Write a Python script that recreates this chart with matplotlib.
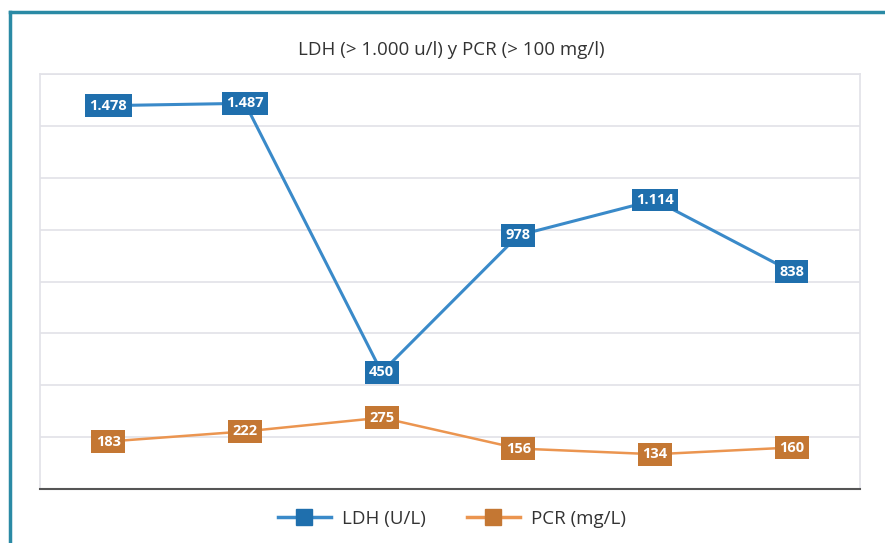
import matplotlib
matplotlib.use("Agg")
import matplotlib.pyplot as plt
from matplotlib.lines import Line2D

plt.rcParams['font.family'] = ['Open Sans', 'DejaVu Sans']

categories = ["1", "2", "3", "4", "5", "6"]
ldh = [1478, 1487, 450, 978, 1114, 838]
pcr = [183, 222, 275, 156, 134, 160]
ldh_labels = ["1.478", "1.487", "450", "978", "1.114", "838"]
pcr_labels = ["183", "222", "275", "156", "134", "160"]
title = "LDH (> 1.000 u/l) y PCR (> 100 mg/l)"
series_names = ["LDH (U/L)", "PCR (mg/L)"]

ldh_line, ldh_box = "#3a8ac9", "#1f6fad"
pcr_line, pcr_box = "#eb9550", "#c47733"

fig = plt.figure(figsize=(8.85, 5.43), dpi=100)
ax = fig.add_axes([40/885, 54/543, 820/885, 415/543])

x = list(range(len(categories)))
ax.plot(x, ldh, color=ldh_line, lw=2.2, zorder=3)
ax.plot(x, pcr, color=pcr_line, lw=1.8, zorder=3)

for xi, v, lab in zip(x, ldh, ldh_labels):
    ax.text(xi, v, lab, ha='center', va='center', color='white', fontsize=10.5,
            fontweight='bold', zorder=5,
            bbox=dict(boxstyle='square,pad=0.3', fc=ldh_box, ec='none'))
for xi, v, lab in zip(x, pcr, pcr_labels):
    ax.text(xi, v, lab, ha='center', va='center', color='white', fontsize=10.5,
            fontweight='bold', zorder=5,
            bbox=dict(boxstyle='square,pad=0.3', fc=pcr_box, ec='none'))

ax.set_xlim(-0.5, len(categories) - 0.5)
ax.set_ylim(0, 1600)
ax.set_yticks(range(0, 1601, 200))
ax.set_xticks([])
ax.tick_params(left=False, labelleft=False, bottom=False, labelbottom=False)
ax.grid(axis='y', color='#e2e2e8', lw=1.2, zorder=0)
for s in ['left', 'right', 'top']:
    ax.spines[s].set_color('#e2e2e8')
    ax.spines[s].set_linewidth(1.2)
ax.spines['bottom'].set_color('#555555')
ax.spines['bottom'].set_linewidth(1.5)

fig.text(451/885, 1 - 50/543, title, ha='center', va='center', fontsize=13.5, color='#333333')

handles = [
    Line2D([0], [0], color=ldh_line, lw=2.5, marker='s', markersize=12,
           markerfacecolor=ldh_box, markeredgecolor=ldh_box),
    Line2D([0], [0], color=pcr_line, lw=2.5, marker='s', markersize=12,
           markerfacecolor=pcr_box, markeredgecolor=pcr_box),
]
fig.legend(handles, series_names, loc='center', bbox_to_anchor=(452/885, 1 - 519/543),
           ncol=2, frameon=False, fontsize=13.5, handlelength=2.8, columnspacing=2.2,
           handletextpad=0.6, labelcolor='#333333')

# outer frame lines
fig.add_artist(Line2D([10/885, 10/885], [0, 1 - 12/543], color='#2a8aa5', lw=2.5,
                      transform=fig.transFigure))
fig.add_artist(Line2D([10/885, 1], [1 - 12/543, 1 - 12/543], color='#2a8aa5', lw=2.5,
                      transform=fig.transFigure))

fig.savefig("out.png", dpi=100)
